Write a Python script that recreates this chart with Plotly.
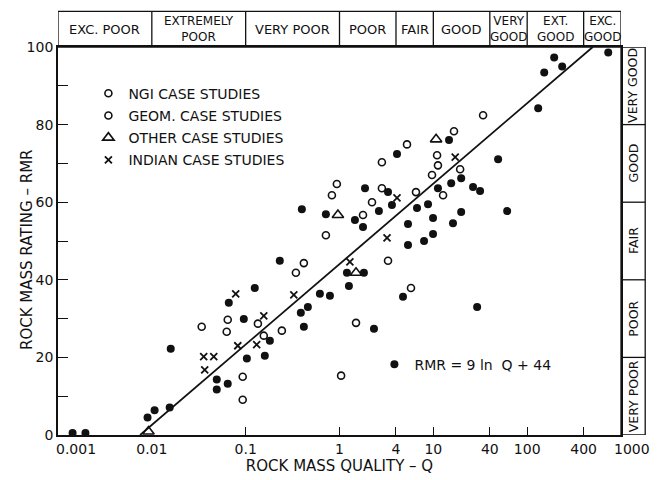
import math
import plotly.graph_objects as go

# ---------------- data ----------------
filled_q = [0.00143, 0.00196, 0.0090, 0.0107, 0.0155, 0.0159, 0.0492, 0.0492, 0.0644, 0.0661,
            0.0955, 0.103, 0.125, 0.160, 0.181, 0.231, 0.387, 0.417, 0.460, 0.618,
            0.791, 1.20, 1.26, 1.82, 0.397, 0.716, 1.46, 1.78, 1.87, 3.29,
            3.62, 2.63, 4.10, 6.70, 8.78, 5.37, 9.93, 11.2, 15.5, 19.8,
            19.8, 16.2, 26.5, 31.5, 14.7, 49.0, 61.2, 131, 152, 194,
            236, 731, 5.37, 7.96, 9.93, 4.75, 29.3, 2.33]
filled_rmr = [0.5, 0.5, 4.5, 6.4, 7.1, 22.2, 14.3, 11.7, 13.2, 34.1,
              29.9, 19.7, 37.9, 20.4, 24.3, 44.9, 31.5, 27.9, 33.0, 36.4,
              35.9, 41.8, 38.4, 41.8, 58.2, 56.9, 55.4, 53.6, 63.6, 62.6,
              59.3, 57.7, 72.4, 58.5, 59.5, 54.4, 55.9, 63.6, 64.9, 66.2,
              57.5, 54.6, 63.9, 62.9, 76.0, 71.1, 57.7, 84.2, 93.4, 97.3,
              95.0, 98.6, 49.0, 50.0, 51.8, 35.6, 33.0, 27.4]

ngi_q = [0.937, 0.830, 0.716, 33.9, 16.6, 5.24, 2.83, 10.96, 11.2, 9.68, 19.3, 12.7, 2.83, 2.22, 6.53]
ngi_rmr = [64.7, 61.8, 51.5, 82.4, 78.3, 74.9, 70.3, 72.1, 69.5, 67.0, 68.5, 61.8, 63.6, 60.0, 62.6]

geom_q = [1.78, 0.417, 0.343, 3.29, 5.78, 1.50, 1.04, 0.0644, 0.0340, 0.0628, 0.135, 0.156, 0.243, 0.093, 0.093]
geom_rmr = [56.7, 44.3, 41.8, 44.9, 37.9, 28.9, 15.3, 29.7, 27.9, 26.6, 28.7, 25.6, 26.9, 15.0, 9.1]

other_q = [0.962, 10.7, 1.50, 0.0092]
other_rmr = [56.7, 76.2, 41.8, 0.9]

indian_q = [17.1, 4.10, 3.21, 1.29, 0.0783, 0.326, 0.156, 0.0824, 0.131, 0.0357, 0.0457, 0.0366]
indian_rmr = [71.6, 61.1, 50.8, 44.6, 36.4, 36.1, 30.7, 23.0, 23.3, 20.2, 20.2, 16.8]

# regression line RMR = 9 ln Q + 44 (end points as read)
line_q = [0.0075, 500]
line_rmr = [0, 100]

x_ticks = [0.001, 0.01, 0.1, 1, 4, 10, 40, 100, 400, 1000]
x_tick_labels = ["0.001", "0.01", "0.1", "1", "4", "10", "40", "100", "400", "1000"]
x_tick_marks = [0.1, 1, 4, 10, 40, 100, 400]
y_ticks = [0, 10, 20, 30, 40, 50, 60, 70, 80, 90, 100]
y_tick_labels = ["0", "", "20", "", "40", "", "60", "", "80", "", "100"]

q_class_bounds = [0.001, 0.01, 0.1, 1, 4, 10, 40, 100, 400, 1000]
q_class_names = ["EXC. POOR", "EXTREMELY<br>POOR", "VERY POOR", "POOR", "FAIR", "GOOD",
                 "VERY<br>GOOD", "EXT.<br>GOOD", "EXC.<br>GOOD"]
rmr_class_bounds = [0, 20, 40, 60, 80, 100]
rmr_class_names = ["VERY POOR", "POOR", "FAIR", "GOOD", "VERY GOOD"]

FONT = "DejaVu Sans"
BLACK = "#111111"

# the two end labels are drawn shifted inward (as in the reference), the rest by the axis
shown_x_labels = ["" if i in (0, len(x_tick_labels) - 1) else t for i, t in enumerate(x_tick_labels)]

fig = go.Figure()

fig.add_trace(go.Scatter(x=line_q, y=line_rmr, mode="lines", line=dict(color=BLACK, width=1.8),
                         showlegend=False, cliponaxis=False))

fig.add_trace(go.Scatter(x=ngi_q, y=ngi_rmr, mode="markers", name="NGI CASE STUDIES",
                         legendgroup="a", cliponaxis=False,
                         marker=dict(symbol="circle-open", size=7, color=BLACK, line=dict(width=1.6))))
fig.add_trace(go.Scatter(x=geom_q, y=geom_rmr, mode="markers", name="GEOM. CASE STUDIES",
                         legendgroup="b", cliponaxis=False,
                         marker=dict(symbol="circle-open", size=7, color=BLACK, line=dict(width=1.6))))
fig.add_trace(go.Scatter(x=other_q, y=other_rmr, mode="markers", name="OTHER CASE STUDIES",
                         legendgroup="c", cliponaxis=False,
                         marker=dict(symbol="triangle-up-open", size=10, color=BLACK, line=dict(width=1.6))))
fig.add_trace(go.Scatter(x=indian_q, y=indian_rmr, mode="markers", name="INDIAN CASE STUDIES",
                         legendgroup="d", cliponaxis=False,
                         marker=dict(symbol="x-thin-open", size=7, color=BLACK, line=dict(width=1.8))))
fig.add_trace(go.Scatter(x=filled_q, y=filled_rmr, mode="markers",
                         name="RMR = 9 ln \u00a0Q + 44", legend="legend2", cliponaxis=False,
                         marker=dict(symbol="circle", size=8, color=BLACK)))

shapes = []
annotations = []

# end tick labels of the Q axis
for idx, shift in ((0, 18), (len(x_ticks) - 1, 11)):
    annotations.append(dict(xref="x", yref="paper", x=math.log10(x_ticks[idx]), y=0, yanchor="top",
                            xanchor="center", xshift=shift, yshift=-4, showarrow=False,
                            text=x_tick_labels[idx], font=dict(family=FONT, size=14, color=BLACK)))

# top band of Q classes
TOP = 1.092
shapes.append(dict(type="rect", xref="x", yref="paper", x0=q_class_bounds[0], x1=q_class_bounds[-1],
                   y0=1.0, y1=TOP, line=dict(color=BLACK, width=1.3)))
for b in q_class_bounds[1:-1]:
    shapes.append(dict(type="line", xref="x", yref="paper", x0=b, x1=b, y0=1.0, y1=TOP,
                       line=dict(color=BLACK, width=1.3)))
for i, name in enumerate(q_class_names):
    mid = (math.log10(q_class_bounds[i]) + math.log10(q_class_bounds[i + 1])) / 2
    small = "<br>" in name
    annotations.append(dict(xref="x", yref="paper", x=mid, y=(1.0 + TOP) / 2, text=name,
                            showarrow=False, font=dict(family=FONT, size=12 if small else 13, color=BLACK),
                            xanchor="center", yanchor="middle"))

# right band of RMR classes
RX = 1.043
shapes.append(dict(type="rect", xref="paper", yref="y", x0=1.0, x1=RX, y0=rmr_class_bounds[0],
                   y1=rmr_class_bounds[-1], line=dict(color=BLACK, width=1.3)))
for b in rmr_class_bounds[1:-1]:
    shapes.append(dict(type="line", xref="paper", yref="y", x0=1.0, x1=RX, y0=b, y1=b,
                       line=dict(color=BLACK, width=1.3)))
for i, name in enumerate(rmr_class_names):
    annotations.append(dict(xref="paper", yref="y", x=(1.0 + RX) / 2,
                            y=(rmr_class_bounds[i] + rmr_class_bounds[i + 1]) / 2, text=name,
                            textangle=-90, showarrow=False,
                            font=dict(family=FONT, size=12.5, color=BLACK),
                            xanchor="center", yanchor="middle"))

# y axis title placed as in the reference (close to the tick labels)
annotations.append(dict(xref="paper", yref="paper", x=-0.055, y=0.477, text="ROCK MASS RATING \u2013 RMR",
                        textangle=-90, showarrow=False, xanchor="center", yanchor="middle",
                        font=dict(family=FONT, size=15, color=BLACK)))

fig.update_layout(
    width=657, height=480,
    margin=dict(l=58, r=36, t=47, b=45, autoexpand=False),
    paper_bgcolor="white", plot_bgcolor="white",
    font=dict(family=FONT, size=14, color=BLACK),
    shapes=shapes, annotations=annotations,
    legend=dict(x=0.054, y=0.921, xanchor="left", yanchor="top", bgcolor="rgba(0,0,0,0)",
                font=dict(family=FONT, size=14, color=BLACK), tracegroupgap=1,
                itemwidth=30),
    legend2=dict(x=0.562, y=0.181, xanchor="left", yanchor="middle", bgcolor="rgba(0,0,0,0)",
                 font=dict(family=FONT, size=14, color=BLACK), itemwidth=30),
    xaxis=dict(type="log", range=[-3, 3], tickmode="array", tickvals=x_ticks, ticktext=shown_x_labels,
               tickangle=0, ticks="", showline=True, linecolor=BLACK, linewidth=1.8, mirror=True,
               minor=dict(tickmode="array", tickvals=x_tick_marks, ticks="inside", ticklen=8,
                          tickwidth=1.3, tickcolor=BLACK, showgrid=False),
               showgrid=False, zeroline=False, automargin=False,
               tickfont=dict(family=FONT, size=14, color=BLACK),
               title=dict(text="ROCK MASS QUALITY \u2013 Q", font=dict(family=FONT, size=15, color=BLACK),
                          standoff=4)),
    yaxis=dict(range=[0, 100], tickmode="array", tickvals=y_ticks, ticktext=y_tick_labels,
               ticks="inside", ticklen=10, tickwidth=1.3, tickcolor=BLACK,
               showline=True, linecolor=BLACK, linewidth=1.8, mirror=True,
               showgrid=False, zeroline=False, automargin=False,
               tickfont=dict(family=FONT, size=14, color=BLACK)),
)

fig.write_html("out.html", config={"displayModeBar": False},
               post_script="document.body.style.margin='0';document.body.style.padding='0';")
